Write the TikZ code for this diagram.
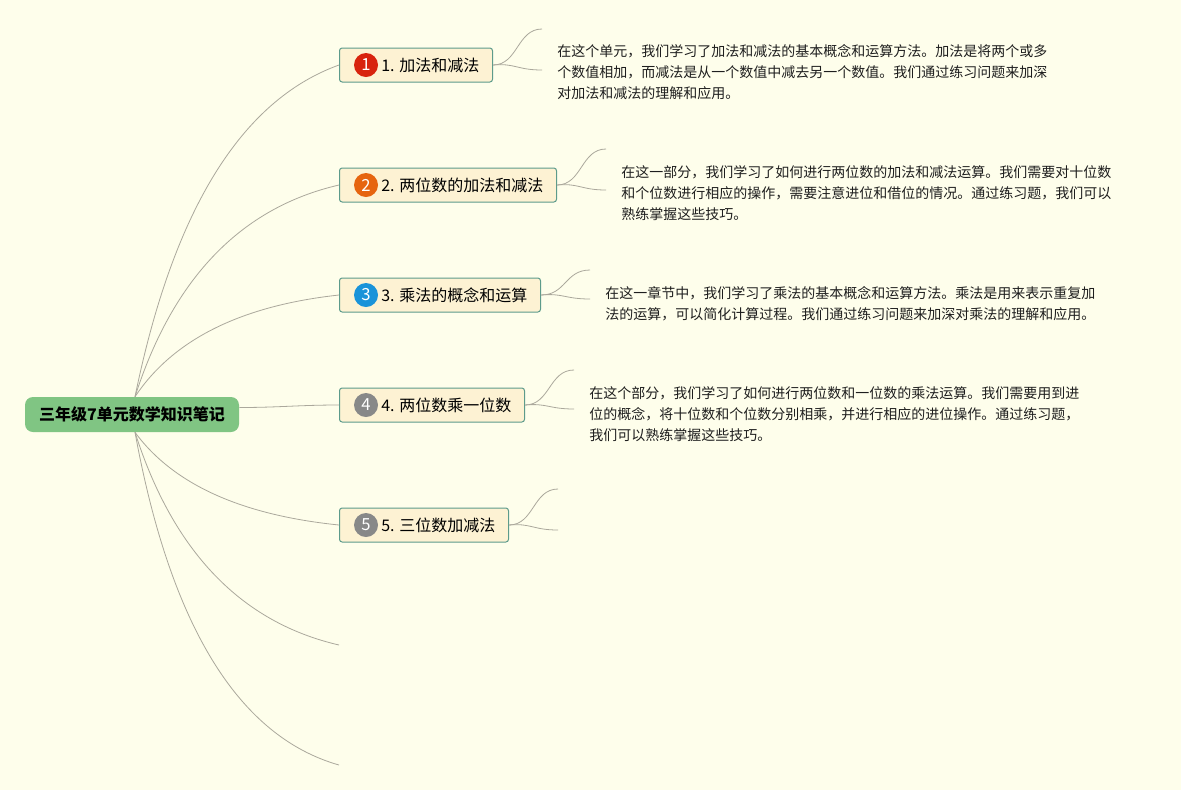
\documentclass[tikz,border=0pt]{standalone}
\usepackage{fontspec}
\setmainfont{Noto Sans CJK SC}
\usetikzlibrary{calc}
\definecolor{bg}{HTML}{FEFEEB}
\definecolor{rootfill}{HTML}{80C583}
\definecolor{childfill}{HTML}{FDF2D3}
\definecolor{childdraw}{HTML}{5D9B8B}
\definecolor{linec}{HTML}{ABA89C}
\definecolor{txt}{HTML}{1E1E1E}
\definecolor{b1}{HTML}{D8230E}
\definecolor{b2}{HTML}{E6640F}
\definecolor{b3}{HTML}{1A93D9}
\definecolor{b4}{HTML}{888888}
\begin{document}
\begin{tikzpicture}[x=0.75pt,y=-0.75pt,
  rootbox/.style={fill=rootfill, rounded corners=6pt, minimum width=160.5pt, minimum height=26.25pt, inner sep=0pt, text=black, font=\fontsize{12}{14}\selectfont\bfseries},
  childbox/.style={draw=childdraw, fill=childfill, line width=0.75pt, rounded corners=2pt, minimum height=25.5pt, inner sep=0pt, anchor=west},
  badge/.style={circle, fill=#1, minimum size=18pt, inner sep=0pt, text=white, font=\fontsize{12.5}{12.5}\selectfont},
  childtext/.style={anchor=west, inner sep=0pt, text=black, font=\fontsize{12}{14}\selectfont},
  desc/.style={anchor=north west, inner sep=0pt, align=left, text=txt, font=\fontsize{10.5}{15.75}\selectfont},
  conn/.style={draw=linec, line width=0.6pt}
]
\fill[bg] (0,0) rectangle (1181,790);
\useasboundingbox (0,0) rectangle (1181,790);

% root
\node[rootbox] (root) at (132,414.5) {三年级7单元数学知识笔记};
\coordinate (rt) at ($(root.north)+(3,0)$);
\coordinate (rb) at ($(root.south)+(3,0)$);
\coordinate (re) at ($(root.east)+(0,-7)$);

% children
\node[childbox, minimum width=114.75pt] (c1) at (339,65) {};
\node[childbox, minimum width=162.75pt] (c2) at (339,185) {};
\node[childbox, minimum width=150.75pt] (c3) at (339,295) {};
\node[childbox, minimum width=138.75pt] (c4) at (339,405) {};
\node[childbox, minimum width=126.75pt] (c5) at (339,525) {};

\node[badge=b1] (n1) at ($(c1.west)+(27,0)$) {1};
\node[badge=b2] (n2) at ($(c2.west)+(27,0)$) {2};
\node[badge=b3] (n3) at ($(c3.west)+(27,0)$) {3};
\node[badge=b4] (n4) at ($(c4.west)+(27,0)$) {4};
\node[badge=b4] (n5) at ($(c5.west)+(27,0)$) {5};

\node[childtext] (t1) at ($(c1.west)+(42,0)$) {1. 加法和减法};
\node[childtext] (t2) at ($(c2.west)+(42,0)$) {2. 两位数的加法和减法};
\node[childtext] (t3) at ($(c3.west)+(42,0)$) {3. 乘法的概念和运算};
\node[childtext] (t4) at ($(c4.west)+(42,0)$) {4. 两位数乘一位数};
\node[childtext] (t5) at ($(c5.west)+(42,0)$) {5. 三位数加减法};

% empty branch ends
\coordinate (e6) at (339,645);
\coordinate (e7) at (339,765);

% quadratic control points
\coordinate (q1) at (192,118);
\coordinate (q2) at (192,219);
\coordinate (q3) at (192,311);
\coordinate (q5) at (192,510);
\coordinate (q6) at (192,611);
\coordinate (q7) at (188,722);

\draw[conn] (rt) .. controls ($(rt)!0.667!(q1)$) and ($(c1.west)!0.667!(q1)$) .. (c1.west);
\draw[conn] (rt) .. controls ($(rt)!0.667!(q2)$) and ($(c2.west)!0.667!(q2)$) .. (c2.west);
\draw[conn] (rt) .. controls ($(rt)!0.667!(q3)$) and ($(c3.west)!0.667!(q3)$) .. (c3.west);
\draw[conn] (re) .. controls ($(re)+(40,0)$) and ($(c4.west)+(-40,0)$) .. (c4.west);
\draw[conn] (rb) .. controls ($(rb)!0.667!(q5)$) and ($(c5.west)!0.667!(q5)$) .. (c5.west);
\draw[conn] (rb) .. controls ($(rb)!0.667!(q6)$) and ($(e6)!0.667!(q6)$) .. (e6);
\draw[conn] (rb) .. controls ($(rb)!0.667!(q7)$) and ($(e7)!0.667!(q7)$) .. (e7);

% sub-branch ends
\coordinate (u1) at (542,29);  \coordinate (l1) at (542,70);
\coordinate (u2) at (606,149); \coordinate (l2) at (606,190);
\coordinate (u3) at (590,270); \coordinate (l3) at (590,299);
\coordinate (u4) at (574,370); \coordinate (l4) at (574,409);
\coordinate (u5) at (558,489); \coordinate (l5) at (558,530);

\foreach \i in {1,...,5}{
  \draw[conn] (c\i.east) .. controls ($(c\i.east)+(25,0)$) and ($(u\i)+(-25,0)$) .. (u\i);
  \draw[conn] (c\i.east) .. controls ($(c\i.east)+(22,-2)$) and ($(l\i)+(-25,0)$) .. (l\i);
}

% descriptions
\node[desc] (d1) at (557,44) {在这个单元，我们学习了加法和减法的基本概念和运算方法。加法是将两个或多\\个数值相加，而减法是从一个数值中减去另一个数值。我们通过练习问题来加深\\对加法和减法的理解和应用。};
\node[desc] (d2) at (621,165) {在这一部分，我们学习了如何进行两位数的加法和减法运算。我们需要对十位数\\和个位数进行相应的操作，需要注意进位和借位的情况。通过练习题，我们可以\\熟练掌握这些技巧。};
\node[desc] (d3) at (605,286) {在这一章节中，我们学习了乘法的基本概念和运算方法。乘法是用来表示重复加\\法的运算，可以简化计算过程。我们通过练习问题来加深对乘法的理解和应用。};
\node[desc] (d4) at (589,386) {在这个部分，我们学习了如何进行两位数和一位数的乘法运算。我们需要用到进\\位的概念，将十位数和个位数分别相乘，并进行相应的进位操作。通过练习题，\\我们可以熟练掌握这些技巧。};
\end{tikzpicture}
\end{document}
